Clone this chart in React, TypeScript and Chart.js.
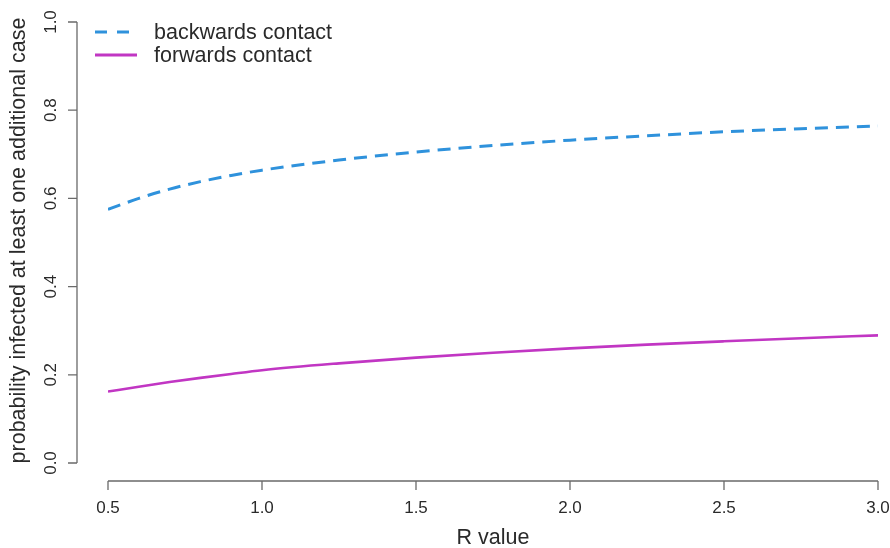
import React, { useEffect, useRef } from "react";
import { Chart, registerables } from "chart.js";

Chart.register(...registerables);

const rValues = [0.5, 0.6, 0.7, 0.8, 0.9, 1.0, 1.25, 1.5, 1.75, 2.0, 2.25, 2.5, 2.75, 3.0];
const backwards = [0.575, 0.6, 0.621, 0.638, 0.652, 0.664, 0.687, 0.705, 0.72, 0.732, 0.742, 0.751, 0.758, 0.764];
const forwards = [0.162, 0.173, 0.1835, 0.193, 0.202, 0.2105, 0.226, 0.239, 0.25, 0.26, 0.2685, 0.276, 0.283, 0.2895];

const xTicks = [0.5, 1.0, 1.5, 2.0, 2.5, 3.0];
const yTicks = [0.0, 0.2, 0.4, 0.6, 0.8, 1.0];
const seriesNames = ["backwards contact", "forwards contact"];
const xTitle = "R value";
const yTitle = "probability infected at least one additional case";

const BLUE = "#2f92dc";
const MAGENTA = "#c136c3";
const AXIS = "#6a6a6a";
const TEXT = "#2a2a2a";
const FONT = "Liberation Sans, Arial, Helvetica, sans-serif";

const rAxesPlugin = {
  id: "rAxes",
  afterDraw(chart: any) {
    const ctx = chart.ctx as CanvasRenderingContext2D;
    const xs = chart.scales.x;
    const ys = chart.scales.y;
    const axisX = 77;
    const axisY = 481;
    ctx.save();
    ctx.strokeStyle = AXIS;
    ctx.lineWidth = 1.3;
    ctx.fillStyle = TEXT;

    // x axis
    const x0 = xs.getPixelForValue(xTicks[0]);
    const x1 = xs.getPixelForValue(xTicks[xTicks.length - 1]);
    ctx.beginPath();
    ctx.moveTo(x0, axisY);
    ctx.lineTo(x1, axisY);
    for (const t of xTicks) {
      const px = xs.getPixelForValue(t);
      ctx.moveTo(px, axisY);
      ctx.lineTo(px, axisY + 9);
    }
    ctx.stroke();
    ctx.font = `17px ${FONT}`;
    ctx.textAlign = "center";
    ctx.textBaseline = "middle";
    for (const t of xTicks) {
      ctx.fillText(t.toFixed(1), xs.getPixelForValue(t), 508);
    }
    ctx.font = `21.5px ${FONT}`;
    ctx.fillText(xTitle, (x0 + x1) / 2, 538);

    // y axis
    const y0 = ys.getPixelForValue(yTicks[0]);
    const y1 = ys.getPixelForValue(yTicks[yTicks.length - 1]);
    ctx.beginPath();
    ctx.moveTo(axisX, y0);
    ctx.lineTo(axisX, y1);
    for (const t of yTicks) {
      const py = ys.getPixelForValue(t);
      ctx.moveTo(axisX, py);
      ctx.lineTo(axisX - 9, py);
    }
    ctx.stroke();
    ctx.font = `17px ${FONT}`;
    for (const t of yTicks) {
      const py = ys.getPixelForValue(t);
      ctx.save();
      ctx.translate(51, py);
      ctx.rotate(-Math.PI / 2);
      ctx.fillText(t.toFixed(1), 0, 0);
      ctx.restore();
    }
    ctx.save();
    ctx.font = `21.5px ${FONT}`;
    ctx.translate(19, (y0 + y1) / 2 - 2);
    ctx.rotate(-Math.PI / 2);
    ctx.fillText(yTitle, 0, 0);
    ctx.restore();

    // legend
    const entries = [
      { name: seriesNames[0], color: BLUE, dash: [12, 10], y: 32 },
      { name: seriesNames[1], color: MAGENTA, dash: [], y: 55 },
    ];
    for (const e of entries) {
      ctx.beginPath();
      ctx.strokeStyle = e.color;
      ctx.lineWidth = 3;
      ctx.setLineDash(e.dash);
      ctx.moveTo(95, e.y);
      ctx.lineTo(137, e.y);
      ctx.stroke();
      ctx.setLineDash([]);
      ctx.font = `21.5px ${FONT}`;
      ctx.textAlign = "left";
      ctx.fillStyle = TEXT;
      ctx.fillText(e.name, 154, e.y + 1);
    }
    ctx.restore();
  },
};

export default function App() {
  const canvasRef = useRef<HTMLCanvasElement | null>(null);

  useEffect(() => {
    if (!canvasRef.current) return;
    const chart = new Chart(canvasRef.current, {
      type: "line",
      data: {
        datasets: [
          {
            label: seriesNames[0],
            data: rValues.map((r, i) => ({ x: r, y: backwards[i] })),
            borderColor: BLUE,
            borderWidth: 3,
            borderDash: [13, 8],
            pointRadius: 0,
            fill: false,
            cubicInterpolationMode: "monotone",
          },
          {
            label: seriesNames[1],
            data: rValues.map((r, i) => ({ x: r, y: forwards[i] })),
            borderColor: MAGENTA,
            borderWidth: 2.6,
            pointRadius: 0,
            fill: false,
            cubicInterpolationMode: "monotone",
          },
        ],
      },
      options: {
        animation: false,
        responsive: false,
        maintainAspectRatio: false,
        layout: { padding: { left: 108, right: 12, top: 22, bottom: 85 } },
        plugins: { legend: { display: false }, tooltip: { enabled: false } },
        scales: {
          x: { type: "linear", min: 0.5, max: 3.0, display: false },
          y: { type: "linear", min: 0, max: 1, display: false },
        },
      },
      plugins: [rAxesPlugin],
    });
    return () => chart.destroy();
  }, []);

  return (
    <div style={{ position: "fixed", left: 0, top: 0, width: 890, height: 548, background: "#fff" }}>
      <canvas ref={canvasRef} width={890} height={548} style={{ width: 890, height: 548 }} />
    </div>
  );
}
